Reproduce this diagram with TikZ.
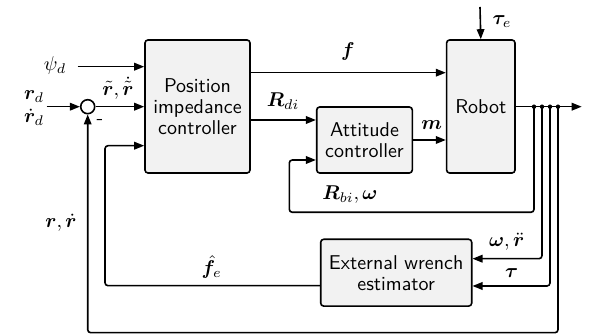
\documentclass[tikz,border=0pt]{standalone}
\usepackage{amsmath,bm}
\usetikzlibrary{arrows.meta}
\tikzset{
  blk/.style={draw, line width=0.8pt, fill=gray!10, rounded corners=1.5pt, inner sep=0pt, align=center,
    font=\sffamily\fontsize{10}{10.5}\selectfont},
  arr/.style={line width=0.8pt, -{Triangle[length=5pt,width=3.8pt]}},
  ln/.style={line width=0.8pt},
  rc/.style={rounded corners=1.5pt},
  lbl/.style={inner sep=0pt},
  dotn/.style={circle, fill, inner sep=0pt, minimum size=2.2pt}
}
\begin{document}
\begin{tikzpicture}[x=0.5pt,y=-0.5pt]
\useasboundingbox (0,0) rectangle (589,335);
% blocks
\node[blk, minimum width=52.5pt, minimum height=66.5pt] (pic) at (197.5,106.5) {Position\\impedance\\controller};
\node[blk, minimum width=47.8pt, minimum height=33pt] (att) at (364.5,140) {Attitude\\controller};
\node[blk, minimum width=34.2pt, minimum height=66.5pt] (rob) at (480.8,106.5) {Robot};
\node[blk, minimum width=75.5pt, minimum height=33.4pt] (ext) at (396.2,272.7) {External wrench\\estimator};
\node[draw, circle, line width=0.8pt, fill=white, minimum size=7pt, inner sep=0pt] (sum) at (87.7,106.7) {};
% coordinates
\coordinate (psi) at (77.7,66.7);
\coordinate (rin) at (46.7,106.7);
\coordinate (fy) at (0,72.7);
\coordinate (ry) at (0,120);
\coordinate (my) at (0,140);
\coordinate (out) at (581.7,106.7);
\coordinate (tau) at (480,7);
\coordinate (d1) at (534,106.7);
\coordinate (d2) at (542,106.7);
\coordinate (d3) at (550,106.7);
\coordinate (d4) at (558,106.7);
% connectors
\draw[arr] (psi) -- (pic.west |- psi);
\draw[arr] (rin) -- (sum.west);
\draw[arr] (sum.east) -- (pic.west |- sum.east);
\draw[arr] (pic.east |- fy) -- (rob.west |- fy);
\draw[arr] (pic.east |- ry) -- (att.west |- ry);
\draw[arr] (att.east |- my) -- (rob.west |- my);
\draw[arr] (tau) -- (rob.north);
\draw[arr] (rob.east |- out) -- (out);
\draw[arr, rc] (d1) |- (289.3,212.3) |- (att.west |- 0,160);
\draw[arr, rc] (d2) |- (ext.east |- 0,258.7);
\draw[arr, rc] (d3) |- (ext.east |- 0,286);
\draw[arr, rc] (d4) |- (87.7,332.7) -- (sum.south);
\draw[arr, rc] (ext.west |- 0,285.7) -| (105,145.7) -- (pic.west |- 0,145.7);
\foreach \d in {d1,d2,d3,d4} \node[dotn] at (\d) {};
% labels
\node[lbl] at (55,66) {$\psi_d$};
\node[lbl] at (34,97) {$\bm{r}_d$};
\node[lbl] at (34,117) {$\dot{\bm{r}}_d$};
\node[lbl] at (118,88) {$\tilde{\bm{r}},\dot{\tilde{\bm{r}}}$};
\node[lbl] at (100,122) {\sffamily -};
\node[lbl] at (348,52) {$\bm{f}$};
\node[lbl] at (283,101) {$\bm{R}_{di}$};
\node[lbl] at (431.7,125) {$\bm{m}$};
\node[lbl] at (502,21.7) {$\bm{\tau}_e$};
\node[lbl] at (350,195) {$\bm{R}_{bi},\bm{\omega}$};
\node[lbl] at (506.7,241.7) {$\bm{\omega},\ddot{\bm{r}}$};
\node[lbl] at (511.7,273) {$\bm{\tau}$};
\node[lbl] at (61,222.7) {$\bm{r},\dot{\bm{r}}$};
\node[lbl] at (211.7,266.7) {$\hat{\bm{f}}_e$};
\end{tikzpicture}
\end{document}
